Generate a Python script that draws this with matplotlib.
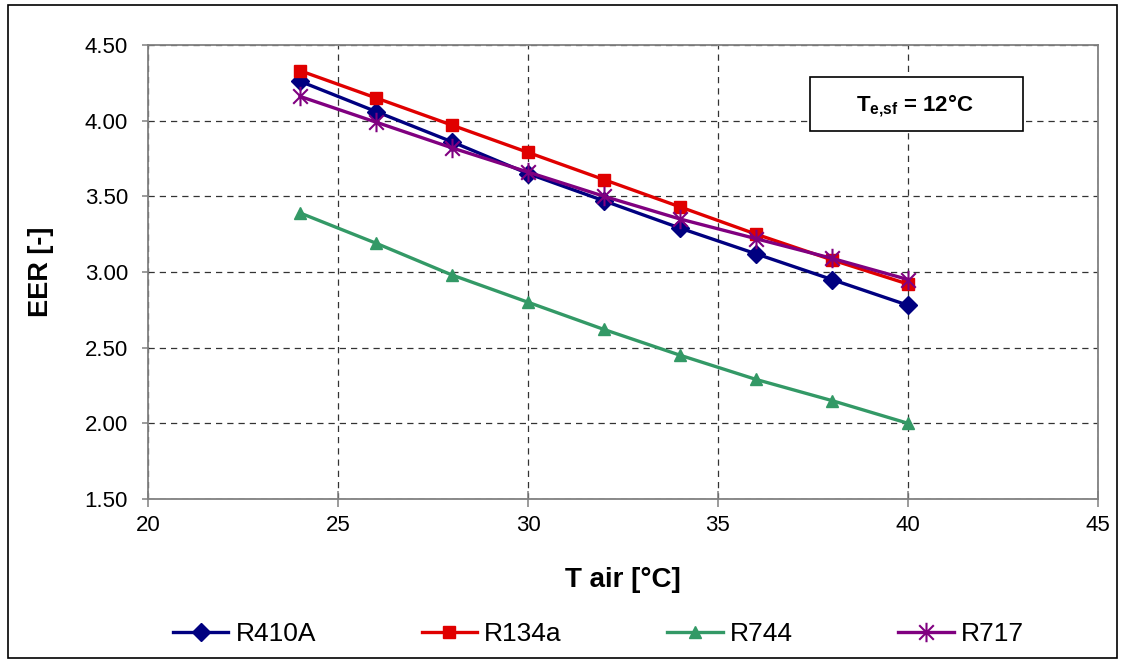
import matplotlib
matplotlib.use("Agg")
import matplotlib.pyplot as plt
from matplotlib.path import Path
from matplotlib.patches import Rectangle

plt.rcParams["font.family"] = ["Liberation Sans", "DejaVu Sans"]
plt.rcParams["mathtext.fontset"] = "custom"
plt.rcParams["mathtext.rm"] = "Liberation Sans:bold"
plt.rcParams["mathtext.it"] = "Liberation Sans:bold"
plt.rcParams["mathtext.bf"] = "Liberation Sans:bold"

t_air = [24, 26, 28, 30, 32, 34, 36, 38, 40]
eer_r410a = [4.26, 4.06, 3.86, 3.65, 3.47, 3.29, 3.12, 2.95, 2.78]
eer_r134a = [4.33, 4.15, 3.97, 3.79, 3.61, 3.43, 3.25, 3.08, 2.92]
eer_r744 = [3.39, 3.19, 2.98, 2.80, 2.62, 2.45, 2.29, 2.15, 2.00]
eer_r717 = [4.16, 3.99, 3.82, 3.66, 3.50, 3.35, 3.22, 3.09, 2.95]

# Excel-style asterisk: vertical bar plus an X
asterisk = Path(
    [(0, -1), (0, 1), (-0.75, -0.75), (0.75, 0.75), (-0.75, 0.75), (0.75, -0.75)],
    [Path.MOVETO, Path.LINETO] * 3,
)

fig = plt.figure(figsize=(11.23, 6.63), dpi=100)
ax = fig.add_axes([0.1318, 0.2474, 0.8459, 0.6848])

ax.plot(t_air, eer_r410a, color="#000080", lw=2.4, marker="D", ms=9, label="R410A", zorder=3)
ax.plot(t_air, eer_r134a, color="#E00000", lw=2.4, marker="s", ms=8, label="R134a", zorder=3)
ax.plot(t_air, eer_r744, color="#339966", lw=2.4, marker="^", ms=9, label="R744", zorder=3)
ax.plot(t_air, eer_r717, color="#800080", lw=2.4, marker=asterisk, ms=14, mew=1.5,
        label="R717", zorder=3)

ax.set_xlim(20, 45)
ax.set_ylim(1.5, 4.5)
ax.set_xticks([20, 25, 30, 35, 40, 45])
ax.set_yticks([1.5, 2.0, 2.5, 3.0, 3.5, 4.0, 4.5])
ax.set_yticklabels([f"{v:.2f}" for v in ax.get_yticks()])
ax.tick_params(axis="y", labelsize=16, length=4.5, width=1.1, direction="out",
               color="#808080", pad=10)
ax.tick_params(axis="x", labelsize=16, length=11, width=1.1, direction="inout",
               color="#808080", pad=6)
ax.grid(True, color="black", linestyle=(0, (5, 4)), lw=0.9, alpha=0.8)
for s in ax.spines.values():
    s.set_color("#808080")
    s.set_linewidth(1.3)

ax.set_xlabel("T air [°C]", fontsize=20, fontweight="bold", labelpad=22)
ax.set_ylabel("EER [-]", fontsize=19.5, fontweight="bold", labelpad=22)

ax.add_patch(Rectangle((0.697, 0.8106), 0.224, 0.119, transform=ax.transAxes,
                       facecolor="white", edgecolor="black", lw=1.2, zorder=4))
ax.text(0.8075, 0.866, r"T$_{\mathrm{e{,}sf}}$ = 12°C", transform=ax.transAxes,
        ha="center", va="center", fontsize=16, fontweight="bold", zorder=5)

fig.legend(loc="center", bbox_to_anchor=(0.533, 0.0437), ncol=4, frameon=False,
           fontsize=19, columnspacing=4.0, handlelength=2.1, handletextpad=0.27,
           borderaxespad=0, borderpad=0)

fig.patches.append(Rectangle((8 / 1123, 5 / 663), 1109 / 1123, 653 / 663,
                             transform=fig.transFigure, fill=False,
                             edgecolor="black", lw=1.2))

fig.savefig("out.png", dpi=100)
